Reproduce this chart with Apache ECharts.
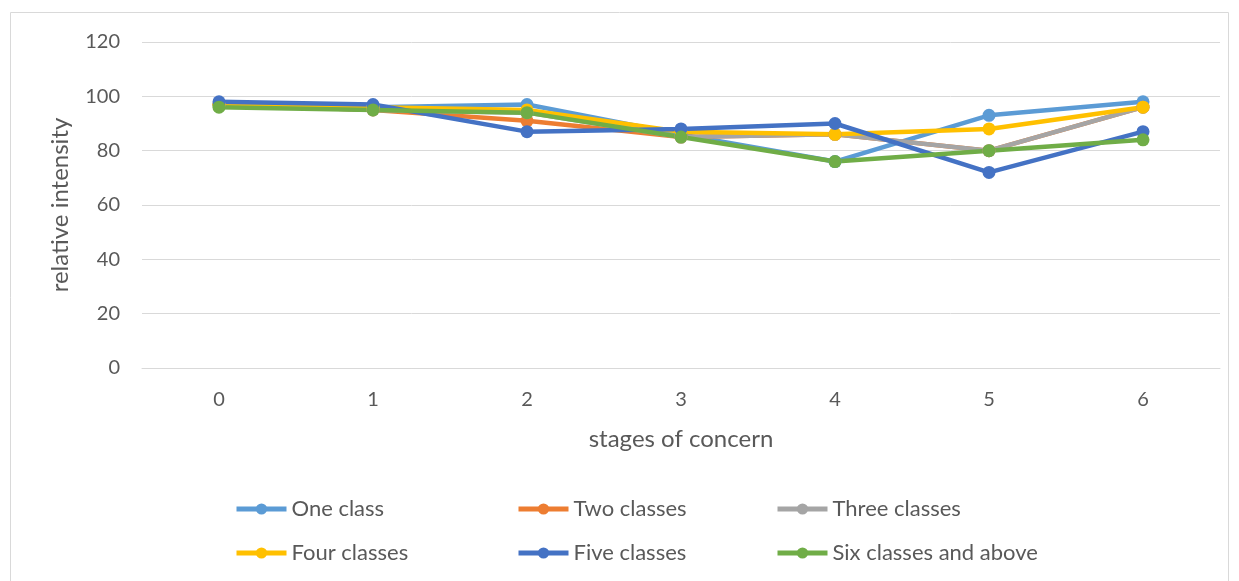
<!DOCTYPE html>
<html>
<head>
<meta charset="utf-8">
<script src="https://cdn.jsdelivr.net/npm/echarts@6/dist/echarts.min.js"></script>
<style>html,body{margin:0;padding:0;background:#fff;}#c{width:1239px;height:581px;}</style>
</head>
<body>
<div id="c"></div>
<script>
const categories = ['0','1','2','3','4','5','6'];
const seriesNames = ['One class','Two classes','Three classes','Four classes','Five classes','Six classes and above'];
const oneClass = [97, 96, 97, 86, 76, 93, 98];
const twoClasses = [97, 95, 91, 85, 86, 80, 96];
const threeClasses = [97, 95, 94, 85, 86, 80, 96];
const fourClasses = [97, 96, 95, 87, 86, 88, 96];
const fiveClasses = [98, 97, 87, 88, 90, 72, 87];
const sixClasses = [96, 95, 94, 85, 76, 80, 84];
const yTicks = [0, 20, 40, 60, 80, 100, 120];

const colors = ['#5B9BD5','#ED7D31','#A5A5A5','#FFC000','#4472C4','#70AD47'];
const values = [oneClass, twoClasses, threeClasses, fourClasses, fiveClasses, sixClasses];
const FONT = 'Lato';
const TXT = '#595959';

const chart = echarts.init(document.getElementById('c'));
function legendCol(left, names) {
  return {
    orient: 'vertical', left: left, top: 492,
    itemWidth: 50, itemHeight: 14, itemGap: 20,
    data: names,
    lineStyle: {width: 5},
    textStyle: {color: TXT, fontSize: 22, fontFamily: FONT, lineHeight: 24, padding: [0,0,0,0]}
  };
}
chart.setOption({
  animation: false,
  color: colors,
  graphic: [{type: 'rect', shape: {x: 10.5, y: 12.5, width: 1218, height: 600}, style: {fill: 'none', stroke: '#d9d9d9', lineWidth: 1}}],
  grid: {left: 142, right: 19, top: 42, bottom: 213},
  xAxis: {
    type: 'category', data: categories, boundaryGap: true,
    axisLine: {lineStyle: {color: '#d9d9d9', width: 1}},
    axisTick: {show: false},
    axisLabel: {color: TXT, fontSize: 20, fontFamily: FONT, margin: 22},
    name: 'stages of concern', nameLocation: 'middle', nameGap: 59,
    nameTextStyle: {color: TXT, fontSize: 24, fontFamily: FONT}
  },
  yAxis: {
    type: 'value', min: yTicks[0], max: yTicks[yTicks.length-1], interval: 20,
    axisLine: {show: false}, axisTick: {show: false},
    splitLine: {lineStyle: {color: '#d9d9d9', width: 1}},
    axisLabel: {color: TXT, fontSize: 20, fontFamily: FONT, margin: 22},
    name: 'relative intensity', nameLocation: 'middle', nameGap: 70,
    nameTextStyle: {color: TXT, fontSize: 24, fontFamily: FONT}
  },
  legend: [
    legendCol(229, [seriesNames[0], seriesNames[3]]),
    legendCol(511, [seriesNames[1], seriesNames[4]]),
    legendCol(770, [seriesNames[2], seriesNames[5]])
  ],
  series: seriesNames.map((n, i) => ({
    name: n, type: 'line', data: values[i],
    symbol: 'circle', symbolSize: 13,
    lineStyle: {width: 4.5, color: colors[i]},
    itemStyle: {color: colors[i]}
  }))
});
</script>
</body>
</html>
